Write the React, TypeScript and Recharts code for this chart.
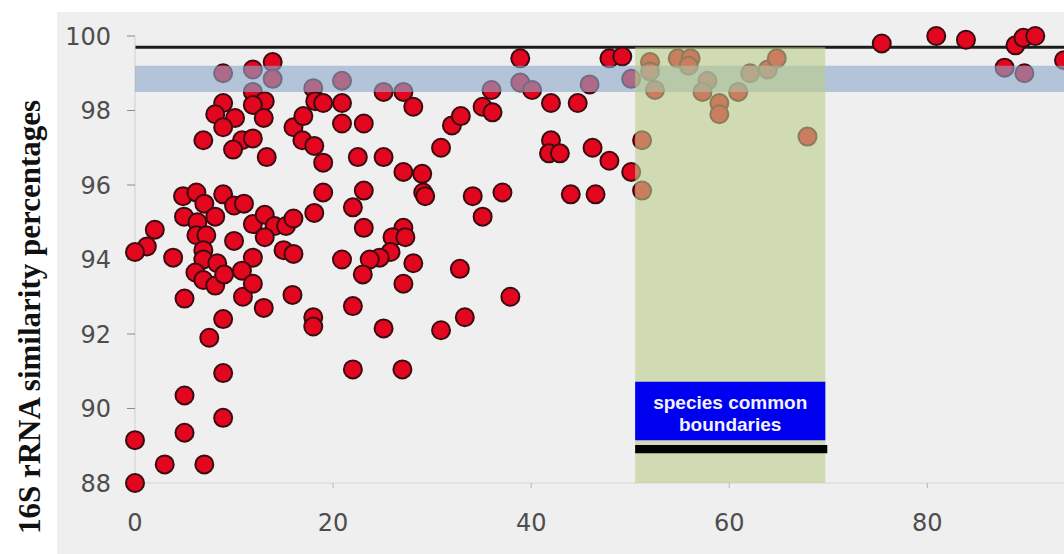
import React from 'react';
import {
  ScatterChart,
  Scatter,
  XAxis,
  YAxis,
  ReferenceArea,
  ReferenceLine
} from 'recharts';

// distance on x, 16S similarity (%) on y, one entry per strain pair
const distance = [
  0, 0, 3.0, 7.0, 5.0, 8.9, 5.0, 8.9, 7.5, 8.9, 5.0, 10.9, 13.0, 15.9,
  4.85, 6.2, 7.0, 8.9, 10.0, 11.0, 4.95, 6.3, 8.1, 6.2, 7.2, 2.0, 1.2, 0,
  3.85, 6.9, 6.9, 10.0, 11.9, 13.1, 14.1, 15.25, 16.0, 13.1, 15.0, 16.0,
  11.9, 10.8, 11.9, 8.3, 6.1, 6.9, 8.1, 9.0,
  8.9, 11.9, 13.9, 13.9, 11.9, 8.9, 13.1, 11.9, 8.1, 10.1, 8.9, 13.0, 16.0,
  6.9, 10.8, 11.9, 9.9, 13.3,
  20.9, 18.0, 18.2, 19.0, 20.9, 17.0, 20.9, 23.1, 25.1, 27.1, 28.1, 16.9,
  18.1, 19.0, 22.5, 25.1, 30.9, 32.0, 32.9,
  27.1, 29.0, 29.1, 29.3, 19.0, 23.1, 22.0, 18.1, 23.1, 27.1, 26.0, 27.3,
  25.8, 24.7, 23.7, 28.1, 20.9, 23.0, 27.1, 32.8,
  37.9, 22.0, 33.3, 25.1, 30.9, 22.0, 27.0, 18.0, 18.0,
  34.1, 37.1, 35.1, 36.0, 35.1, 36.1, 38.9, 38.9, 40.1, 42.0, 44.7, 45.9,
  47.9, 49.2, 50.1, 42.0, 41.8, 42.9, 46.2, 47.9, 50.1, 44.0, 46.5,
  52.0, 52.0, 52.5, 51.2, 51.2, 54.8, 56.1, 55.9,
  57.8, 57.3, 59.0, 59.0, 60.9, 62.1, 63.9, 64.8, 67.9,
  75.4, 80.9, 83.9, 88.9, 89.7, 90.9, 87.8, 89.8, 93.8
];

const similarity = [
  88.0, 89.15, 88.5, 88.5, 89.35, 89.75, 90.35, 90.95, 91.9, 92.4, 92.95, 93.0, 92.7, 93.05,
  95.7, 95.8, 95.5, 95.75, 95.45, 95.5, 95.15, 95.0, 95.15, 94.65, 94.65, 94.8, 94.35, 94.2,
  94.05, 94.25, 94.0, 94.5, 94.95, 95.2, 94.9, 94.9, 95.1, 94.6, 94.25, 94.15,
  94.05, 93.7, 93.35, 93.9, 93.65, 93.45, 93.3, 93.6,
  99.0, 99.1, 99.3, 98.85, 98.5, 98.2, 98.25, 98.15, 97.9, 97.8, 97.55, 97.8, 97.55,
  97.2, 97.2, 97.25, 96.95, 96.75,
  98.8, 98.6, 98.25, 98.2, 98.2, 97.85, 97.65, 97.65, 98.5, 98.5, 98.1, 97.2,
  97.05, 96.6, 96.75, 96.75, 97.0, 97.6, 97.85,
  96.35, 96.3, 95.8, 95.7, 95.8, 95.85, 95.4, 95.25, 94.85, 94.85, 94.6, 94.6,
  94.2, 94.05, 94.0, 93.9, 94.0, 93.6, 93.35, 93.75,
  93.0, 92.75, 92.45, 92.15, 92.1, 91.05, 91.05, 92.45, 92.2,
  95.7, 95.8, 95.15, 98.55, 98.1, 97.95, 99.4, 98.75, 98.55, 98.2, 98.2, 98.7,
  99.4, 99.45, 98.85, 97.2, 96.85, 96.85, 97.0, 96.65, 96.35, 95.75, 95.75,
  99.3, 99.05, 98.55, 97.2, 95.85, 99.4, 99.4, 99.2,
  98.8, 98.5, 98.2, 97.9, 98.5, 99.0, 99.1, 99.4, 97.3,
  99.8, 100.0, 99.9, 99.75, 99.95, 100.0, 99.15, 99.0, 99.35
];

const xTicks = [0, 20, 40, 60, 80];
const yTicks = [88, 90, 92, 94, 96, 98, 100];
const xDomain = [0, 93.8];
const yDomain = [88, 100];

const speciesBand = [98.5, 99.2];
const upperLimit = 99.7;
const boundaryRange = [50.5, 69.7];
const legendBox = [89.15, 90.72];
const legendBar = [88.8, 89.02];
const legendLines = ['species common', 'boundaries'];

const data = distance.map((x, i) => ({ x, y: similarity[i] }));

const Dot = (props: any) => (
  <circle
    cx={props.cx}
    cy={props.cy}
    r={9}
    fill="#e2061e"
    stroke="#3b0b10"
    strokeWidth={2}
  />
);

const LegendText = (props: any) => {
  const vb = props.viewBox || {};
  const cx = vb.x + vb.width / 2;
  return (
    <text
      x={cx}
      y={vb.y + 20}
      textAnchor="middle"
      fill="#f2f2ff"
      fontFamily="Liberation Sans, Arial, sans-serif"
      fontWeight="bold"
      fontSize={19}
    >
      {legendLines.map((line, i) => (
        <tspan key={line} x={cx} dy={i === 0 ? 7 : 22}>
          {line}
        </tspan>
      ))}
    </text>
  );
};

const tickStyle = {
  fill: '#4d4d4d',
  fontSize: 24,
  fontFamily: 'DejaVu Sans, sans-serif'
};

export default function App() {
  return (
    <div
      style={{
        position: 'absolute',
        left: 0,
        top: 0,
        width: 1064,
        height: 554,
        background: '#ffffff',
        overflow: 'hidden'
      }}
    >
      <div
        style={{
          position: 'absolute',
          left: 57,
          top: 12,
          width: 1007,
          height: 542,
          background: '#efefef'
        }}
      />
      <svg
        width={60}
        height={554}
        style={{ position: 'absolute', left: 0, top: 0 }}
      >
        <text
          transform="translate(40, 317) rotate(-90)"
          textAnchor="middle"
          fontFamily="Liberation Serif, Times New Roman, serif"
          fontWeight="bold"
          fontSize={31}
          fill="#111"
        >
          16S rRNA similarity percentages
        </text>
      </svg>
      <div style={{ position: 'absolute', left: 0, top: 0 }}>
        <ScatterChart
          width={1064}
          height={554}
          margin={{ top: 36, right: 0, bottom: 0, left: 0 }}
        >
          <XAxis
            type="number"
            dataKey="x"
            domain={xDomain}
            ticks={xTicks}
            height={71}
            axisLine={{ stroke: '#d6d6d6' }}
            tickLine={{ stroke: '#b5b5b5' }}
            tickSize={5}
            tickMargin={26}
            tick={tickStyle}
          />
          <YAxis
            type="number"
            dataKey="y"
            domain={yDomain}
            ticks={yTicks}
            width={135}
            axisLine={{ stroke: '#d0d0d0' }}
            tickLine={{ stroke: '#8a8a8a' }}
            tickSize={8}
            tickMargin={16}
            tick={tickStyle}
          />
          <ReferenceLine
            y={upperLimit}
            stroke="#1c1c1c"
            strokeWidth={3}
            ifOverflow="visible"
          />
          <Scatter
            data={data}
            shape={<Dot />}
            isAnimationActive={false}
          />
          <ReferenceArea
            y1={speciesBand[0]}
            y2={speciesBand[1]}
            fill="#8ea9cc"
            fillOpacity={0.62}
            stroke="none"
            zIndex={650}
          />
          <ReferenceArea
            x1={boundaryRange[0]}
            x2={boundaryRange[1]}
            y1={yDomain[0]}
            y2={upperLimit}
            fill="#bacd8b"
            fillOpacity={0.6}
            stroke="none"
            zIndex={660}
          />
          <ReferenceArea
            x1={boundaryRange[0]}
            x2={boundaryRange[1]}
            y1={legendBox[0]}
            y2={legendBox[1]}
            fill="#0000f0"
            fillOpacity={1}
            stroke="none"
            zIndex={670}
            label={<LegendText />}
          />
          <ReferenceArea
            x1={boundaryRange[0]}
            x2={boundaryRange[1] + 0.2}
            y1={legendBar[0]}
            y2={legendBar[1]}
            fill="#000000"
            fillOpacity={1}
            stroke="none"
            zIndex={670}
          />
        </ScatterChart>
      </div>
    </div>
  );
}
